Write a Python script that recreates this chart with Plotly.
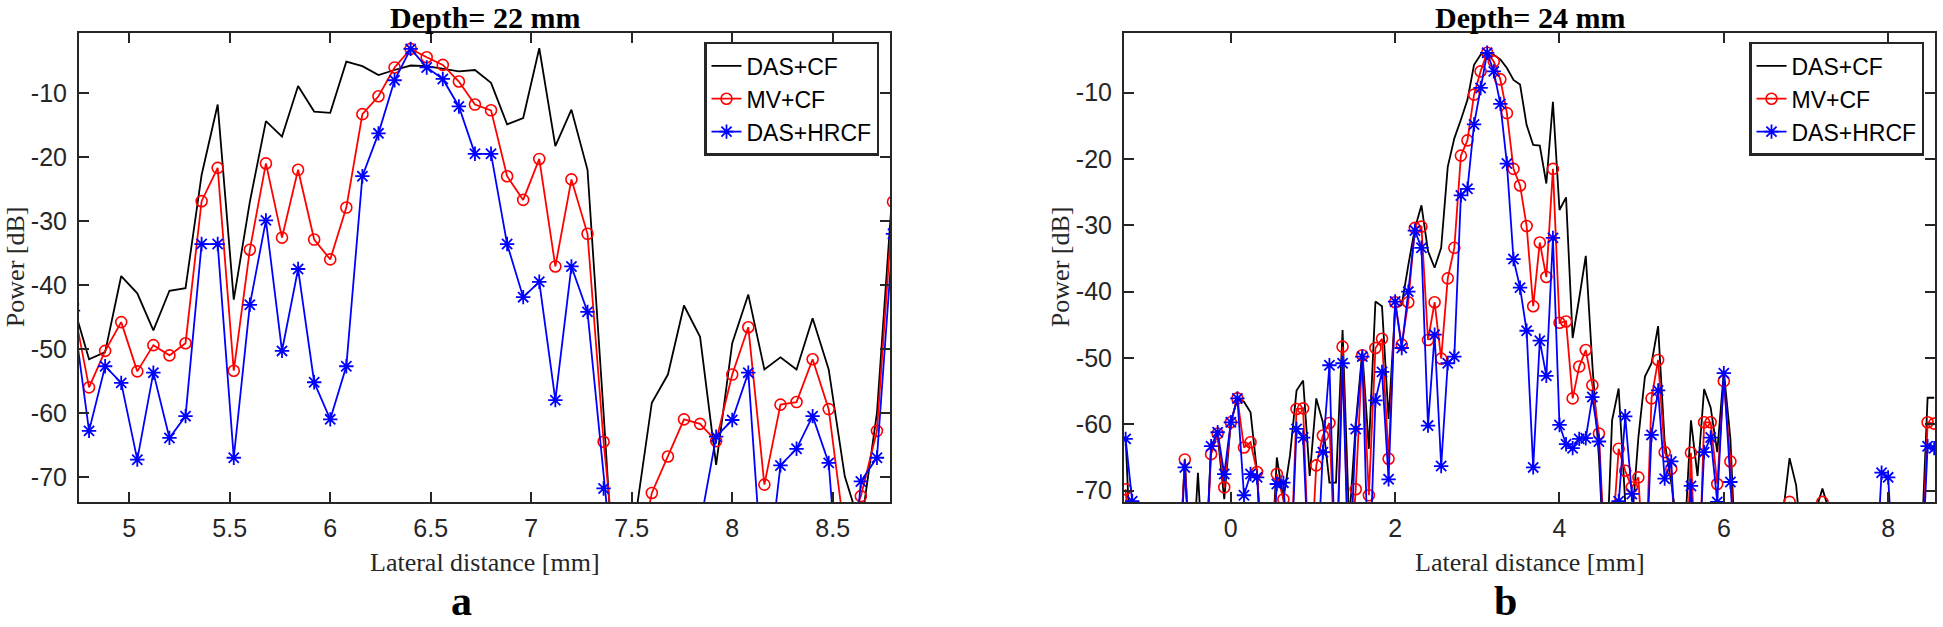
import plotly.graph_objects as go

# ---------------- Panel a : Depth = 22 mm ----------------
x_a = [4.72, 4.80, 4.88, 4.96, 5.04, 5.12, 5.20, 5.28, 5.36, 5.44, 5.52, 5.60, 5.68,
       5.76, 5.84, 5.92, 6.00, 6.08, 6.16, 6.24, 6.32, 6.40, 6.48, 6.56, 6.64, 6.72,
       6.80, 6.88, 6.96, 7.04, 7.12, 7.20, 7.28, 7.36, 7.44, 7.52, 7.60, 7.68, 7.76,
       7.84, 7.92, 8.00, 8.08, 8.16, 8.24, 8.32, 8.40, 8.48, 8.56, 8.64, 8.72, 8.80]
das_cf_a = [-43, -51.6, -50.5, -38.6, -41.3, -47.1, -40.9, -40.5, -22.8, -11.8, -42.3, -27, -14.4,
            -16.8, -8.9, -12.9, -13.1, -5.1, -5.8, -7.2, -6.4, -5.7, -5.8, -6.2, -6.6, -6.4,
            -8.4, -14.9, -13.9, -3.0, -18.3, -12.6, -22.0, -60, -100, -76, -58.4, -54.0, -43.2,
            -48.1, -68.1, -49.1, -41.5, -53.2, -51.3, -53.2, -45.2, -53.2, -69.9, -78, -60, -24]
mv_cf_a = [-43, -56.0, -50.3, -45.8, -53.5, -49.4, -51.0, -49.1, -26.9, -21.7, -53.4, -34.5, -21.0,
           -32.6, -22.0, -32.9, -36.0, -27.9, -13.3, -10.5, -6.0, -3.1, -4.4, -5.6, -8.2, -11.8,
           -12.7, -23.0, -26.7, -20.3, -37.1, -23.5, -32.0, -64.5, -90, -85, -72.5, -66.8, -61.0,
           -61.7, -64.4, -54.0, -46.6, -71.2, -58.7, -58.3, -51.6, -59.4, -79, -73.0, -62.8, -27]
das_hrcf_a = [-44, -62.8, -52.7, -55.3, -67.3, -53.7, -63.9, -60.5, -33.6, -33.6, -67.0, -43.1, -29.9,
              -50.3, -37.5, -55.2, -61.0, -52.7, -23.0, -16.3, -8.0, -3.1, -6.0, -7.8, -12.1, -19.5,
              -19.5, -33.6, -41.9, -39.5, -58.0, -37.1, -44.2, -71.8, -95, -100, -100, -100, -100,
              -77.5, -63.7, -61.1, -53.7, -90, -68.2, -65.6, -60.5, -67.8, -100, -70.7, -67.0, -32]

# ---------------- Panel b : Depth = 24 mm ----------------
x_b = [-1.28, -1.20, -1.12, -1.04, -0.96, -0.88, -0.80, -0.72, -0.64, -0.56, -0.48, -0.40, -0.32,
       -0.24, -0.16, -0.08, 0.00, 0.08, 0.16, 0.24, 0.32, 0.40, 0.48, 0.56, 0.64, 0.72, 0.80,
       0.88, 0.96, 1.04, 1.12, 1.20, 1.28, 1.36, 1.44, 1.52, 1.60, 1.68, 1.76, 1.84, 1.92,
       2.00, 2.08, 2.16, 2.24, 2.32, 2.40, 2.48, 2.56, 2.64, 2.72, 2.80, 2.88, 2.96, 3.04,
       3.12, 3.20, 3.28, 3.36, 3.44, 3.52, 3.60, 3.68, 3.76, 3.84, 3.92, 4.00, 4.08, 4.16,
       4.24, 4.32, 4.40, 4.48, 4.56, 4.64, 4.72, 4.80, 4.88, 4.96, 5.04, 5.12, 5.20, 5.28,
       5.36, 5.44, 5.52, 5.60, 5.68, 5.76, 5.84, 5.92, 6.00, 6.08, 6.16, 6.24, 6.32, 6.40,
       6.48, 6.56, 6.64, 6.72, 6.80, 6.88, 6.96, 7.04, 7.12, 7.20, 7.28, 7.36, 7.44, 7.52,
       7.60, 7.68, 7.76, 7.84, 7.92, 8.00, 8.08, 8.16, 8.24, 8.32, 8.40, 8.48, 8.56]
das_cf_b = [-62, -85, -85, -85, -85, -85, -85, -85, -85, -65.2, -85, -67.3, -85,
            -63.2, -61.7, -71.3, -59.7, -56.1, -56.6, -58.2, -67.3, -85, -85, -65, -71.3, -64.7, -54.9,
            -53.4, -67.8, -56.1, -59.7, -68.8, -68.8, -45.8, -75, -60, -49.0, -63.7, -41.5, -42.2, -59.2,
            -42.5, -42, -36, -30.5, -27.0, -33.9, -36.4, -33.4, -21.2, -16.9, -14.1, -11.1, -5.8, -4.3,
            -3.9, -4.3, -5.0, -6.3, -8.1, -8.8, -14.9, -17.9, -18.0, -23.7, -11.4, -27.7, -25.8, -47,
            -41, -34.6, -51, -65, -85, -59.4, -54.6, -71.8, -75, -62, -52.8, -50.8, -45.2, -62.7,
            -68.8, -76, -78, -59.4, -67.8, -54.7, -57.5, -64.2, -52, -62.2, -85, -85, -85, -85,
            -85, -85, -85, -73.5, -65.1, -69.2, -80, -85, -73, -69.7, -73, -85, -85, -85,
            -85, -85, -85, -85, -85, -85, -85, -85, -85, -85, -80, -56, -56]
mv_cf_b = [-69.8, -85, -85, -85, -85, -85, -85, -85, -85, -65.3, -85, -85, -85,
           -64.5, -61.4, -69.5, -59.7, -56.1, -63.5, -62.7, -67.2, -85, -85, -67.5, -71.3, -85, -57.7,
           -57.6, -85, -66.2, -61.7, -59.8, -85, -48.3, -85, -69.8, -49.6, -70.7, -48.5, -47.1, -65.2,
           -41.6, -48.0, -41.6, -30.4, -30.2, -47.3, -41.6, -50.1, -38.0, -33.4, -19.5, -17.2, -10.3, -6.8,
           -4.0, -5.3, -8.0, -13.1, -21.5, -24.0, -30.1, -42.2, -32.6, -37.8, -21.5, -44.7, -44.5, -56.1,
           -51.3, -48.8, -54.1, -61.4, -82, -78, -63.7, -67.0, -69.5, -68.0, -85, -56.1, -50.3, -64.2,
           -66.7, -85, -90, -64.3, -90, -59.7, -59.7, -69.0, -53.5, -65.6, -90, -85, -85, -85,
           -85, -85, -85, -85, -71.7, -85, -85, -85, -85, -71.7, -85, -85, -85, -85,
           -85, -85, -85, -85, -85, -85, -85, -85, -85, -85, -85, -59.7, -59.9]
das_hrcf_b = [-62.2, -71.6, -85, -85, -85, -85, -85, -85, -85, -66.5, -85, -85, -85,
              -63.3, -61.2, -67.5, -59.7, -56.1, -70.7, -67.5, -68.0, -85, -85, -69.0, -68.8, -85, -60.7,
              -62.0, -85, -85, -64.2, -51.1, -85, -50.8, -85, -60.7, -49.8, -85, -56.4, -52.1, -68.3,
              -41.5, -48.5, -40.0, -30.8, -33.4, -60.2, -46.5, -66.3, -50.8, -49.8, -25.5, -24.5, -14.8, -9.3,
              -4.0, -6.8, -11.7, -20.7, -35.1, -39.4, -45.9, -66.5, -47.4, -52.7, -31.9, -60.1, -63.0, -63.6,
              -62.2, -62.1, -55.9, -62.6, -85, -85, -71.6, -58.8, -70.5, -85, -85, -61.6, -54.9, -68.2,
              -65.6, -85, -85, -69.3, -85, -64.2, -62.0, -71.7, -52.3, -68.7, -85, -85, -85, -85,
              -85, -85, -85, -85, -85, -85, -85, -85, -85, -85, -85, -85, -85, -85,
              -85, -85, -85, -85, -67.3, -68.0, -85, -85, -85, -85, -85, -63.3, -63.6]

series_names = ["DAS+CF", "MV+CF", "DAS+HRCF"]
titles = ["Depth= 22 mm", "Depth= 24 mm"]
panel_labels = ["a", "b"]
x_label = "Lateral distance [mm]"
y_label = "Power [dB]"
xticks_a = [5, 5.5, 6, 6.5, 7, 7.5, 8, 8.5]
xticks_b = [0, 2, 4, 6, 8]
yticks = [-70, -60, -50, -40, -30, -20, -10]

W, H = 1943, 627
def px(x):
    return x / W
def py(y):
    return 1 - y / H

fig = go.Figure()

styles = [
    dict(mode="lines", line=dict(color="black", width=1.8)),
    dict(mode="lines+markers", line=dict(color="#ff0000", width=1.8),
         marker=dict(symbol="circle-open", size=11, color="#ff0000", line=dict(width=1.6, color="#ff0000"))),
    dict(mode="lines+markers", line=dict(color="#0000ff", width=1.8),
         marker=dict(symbol="asterisk-open", size=12, color="#0000ff", line=dict(width=1.8, color="#0000ff"))),
]

for ys, name, st in zip([das_cf_a, mv_cf_a, das_hrcf_a], series_names, styles):
    fig.add_trace(go.Scatter(x=x_a, y=ys, name=name, xaxis="x", yaxis="y", legend="legend", **st))
for ys, name, st in zip([das_cf_b, mv_cf_b, das_hrcf_b], series_names, styles):
    fig.add_trace(go.Scatter(x=x_b, y=ys, name=name, xaxis="x2", yaxis="y2", legend="legend2", **st))

tickfont = dict(family="Liberation Sans, Arial, sans-serif", size=25, color="#262626")
axis_common = dict(showgrid=False, zeroline=False, showline=True, linewidth=2, linecolor="#262626",
                   mirror="ticks", ticks="inside", ticklen=10, tickwidth=1.5, tickcolor="#262626",
                   tickfont=tickfont)

legfont = dict(family="Liberation Sans, Arial, sans-serif", size=23, color="black")
ya_dom = [py(503.5), py(33)]
fig.update_layout(
    width=W, height=H, margin=dict(l=0, r=0, t=0, b=0),
    paper_bgcolor="white", plot_bgcolor="white",
    xaxis=dict(domain=[px(79), px(890)], range=[4.75, 8.785], anchor="y", ticklabelstandoff=3,
               tickvals=xticks_a, ticktext=[str(v) for v in xticks_a], **axis_common),
    yaxis=dict(domain=ya_dom, range=[-73.9, -0.6], anchor="x", ticklabelstandoff=5,
               tickvals=yticks, ticktext=[str(v) for v in yticks], **axis_common),
    xaxis2=dict(domain=[px(1124), px(1935)], range=[-1.3, 8.57], anchor="y2", ticklabelstandoff=3,
                tickvals=xticks_b, ticktext=[str(v) for v in xticks_b], **axis_common),
    yaxis2=dict(domain=ya_dom, range=[-71.7, -1.0], anchor="x2", ticklabelstandoff=5,
                tickvals=yticks, ticktext=[str(v) for v in yticks], **axis_common),
    legend=dict(x=px(879), xanchor="right", y=py(42), yanchor="top", font=legfont,
                bgcolor="white", bordercolor="#262626", borderwidth=2.5, tracegroupgap=0, itemwidth=30),
    legend2=dict(x=px(1924), xanchor="right", y=py(42), yanchor="top", font=legfont,
                 bgcolor="white", bordercolor="#262626", borderwidth=2.5, tracegroupgap=0, itemwidth=30),
    showlegend=True,
)

serif = "Liberation Serif, Times New Roman, serif"
annos = []
for cx, t in zip([(79 + 890) / 2, (1124 + 1935) / 2], titles):
    annos.append(dict(x=px(cx), y=1, xref="paper", yref="paper", text="<b>%s</b>" % t,
                      showarrow=False, xanchor="center", yanchor="top", borderpad=0,
                      font=dict(family=serif, size=30, color="black")))
for cx in [(79 + 890) / 2, (1124 + 1935) / 2]:
    annos.append(dict(x=px(cx), y=py(564), xref="paper", yref="paper", text=x_label,
                      showarrow=False, xanchor="center", yanchor="middle", borderpad=0,
                      font=dict(family=serif, size=26, color="#262626")))
for lx in [15, 1060]:
    annos.append(dict(x=px(lx), y=py(268), xref="paper", yref="paper", text=y_label, textangle=-90,
                      showarrow=False, xanchor="center", yanchor="middle",
                      font=dict(family=serif, size=26, color="#262626")))
for cx, t in zip([461, 1505], panel_labels):
    annos.append(dict(x=px(cx), y=0, xref="paper", yref="paper", text="<b>%s</b>" % t,
                      showarrow=False, xanchor="center", yanchor="bottom", borderpad=0,
                      font=dict(family=serif, size=42, color="black")))
fig.update_layout(annotations=annos)

fig.write_html("out.html", config={"displayModeBar": False},
               post_script="document.body.style.margin='0px';")
